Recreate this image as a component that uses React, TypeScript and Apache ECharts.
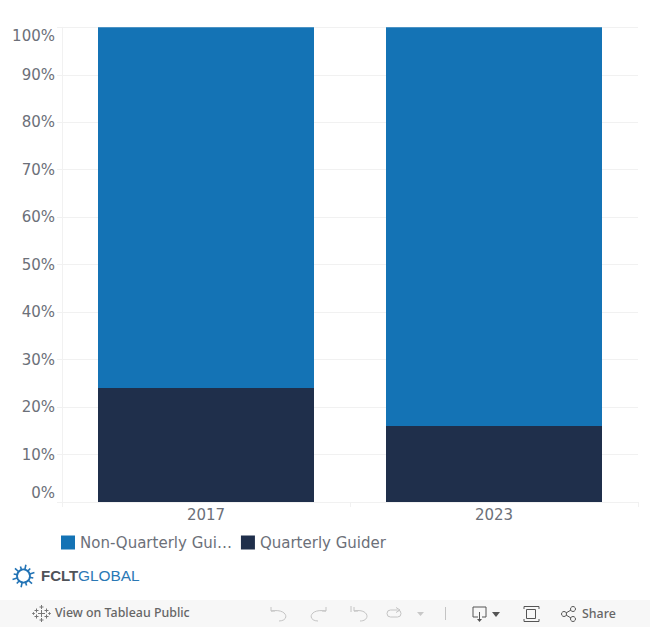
import React, { useEffect, useRef } from "react";
import * as echarts from "echarts";

const categories = ["2017", "2023"];
const quarterlyGuider = [24, 16];
const nonQuarterlyGuider = [76, 84];
const yTicks = { min: 0, max: 100, interval: 10 };
const nonQuarterlyName = "Non-Quarterly Guider";
const quarterlyName = "Quarterly Guider";

const FONT = "DejaVu Sans";
const TEXT = "#6c7079";
const GRID = "#f1f1f1";
const ICON = { stroke: "#c4c4c4", fill: "none", lineWidth: 1 };
const ICON_DARK = { stroke: "#555", fill: "none", lineWidth: 1 };

const burstAngles = [0, 30, 60, 90, 120, 150, 180, 210, 240, 270, 300, 330];

function logo() {
  const cx = 23.5, cy = 576;
  const rays = burstAngles.flatMap((a, i) => {
    const t = ((a + 12) * Math.PI) / 180;
    const r2 = i % 2 ? 11.5 : 10;
    return [{
      type: "line",
      shape: { x1: cx + 6 * Math.cos(t), y1: cy + 6 * Math.sin(t), x2: cx + r2 * Math.cos(t), y2: cy + r2 * Math.sin(t) },
      style: { stroke: "#2273b5", lineWidth: 1.6 },
    }];
  });
  return [
    { type: "circle", shape: { cx, cy, r: 6.5 }, style: { stroke: "#2273b5", fill: "none", lineWidth: 1.8 } },
    ...rays,
    { type: "text", x: 41, y: 568, style: { text: "FCLT", font: "bold 15px 'Liberation Sans', sans-serif", fill: "#4f5358" } },
    { type: "text", x: 78, y: 568, style: { text: "GLOBAL", font: "15.4px 'Liberation Sans', sans-serif", fill: "#2a78b5" } },
  ];
}

function tableauMark() {
  const cx = 41.5, cy = 613.5;
  const crosses: [number, number, number][] = [
    [0, 0, 3.5], [-5, -3, 2], [5, -3, 2], [-5, 3, 2], [5, 3, 2], [0, -6.5, 2], [0, 6.5, 2], [-8, 0, 1.3], [8, 0, 1.3],
  ];
  return crosses.flatMap(([dx, dy, r]) => [
    { type: "line", shape: { x1: cx + dx - r, y1: cy + dy, x2: cx + dx + r, y2: cy + dy }, style: { ...ICON_DARK, stroke: "#777" } },
    { type: "line", shape: { x1: cx + dx, y1: cy + dy - r, x2: cx + dx, y2: cy + dy + r }, style: { ...ICON_DARK, stroke: "#777" } },
  ]);
}

function toolbar() {
  return [
    { type: "polyline", shape: { points: [[271, 607], [271, 611], [275, 611]] }, style: ICON, },
    { type: "bezierCurve", shape: { x1: 271, y1: 611, x2: 279, y2: 621, cpx1: 288, cpy1: 608, cpx2: 290, cpy2: 621 }, style: ICON },
    { type: "polyline", shape: { points: [[326, 607], [326, 611], [322, 611]] }, style: ICON },
    { type: "bezierCurve", shape: { x1: 326, y1: 611, x2: 318, y2: 621, cpx1: 309, cpy1: 608, cpx2: 307, cpy2: 621 }, style: ICON },
    { type: "line", shape: { x1: 351, y1: 606, x2: 351, y2: 612 }, style: ICON },
    { type: "polyline", shape: { points: [[354, 607], [354, 611], [358, 611]] }, style: ICON },
    { type: "bezierCurve", shape: { x1: 354, y1: 611, x2: 360, y2: 621, cpx1: 369, cpy1: 608, cpx2: 371, cpy2: 621 }, style: ICON },
    { type: "rect", shape: { x: 387, y: 610, width: 14, height: 7, r: 3.5 }, style: ICON },
    { type: "polyline", shape: { points: [[396, 607.5], [400, 610], [396, 612.5]] }, style: ICON },
    { type: "polygon", shape: { points: [[417, 612], [424, 612], [420.5, 616]] }, style: { fill: "#c8c8c8" } },
    { type: "line", shape: { x1: 445.5, y1: 607, x2: 445.5, y2: 620 }, style: ICON },
    { type: "polyline", shape: { points: [[478, 617], [473, 617], [473, 607], [486, 607], [486, 617], [482, 617]] }, style: ICON_DARK },
    { type: "line", shape: { x1: 479.5, y1: 612, x2: 479.5, y2: 621 }, style: ICON_DARK },
    { type: "polygon", shape: { points: [[477, 619], [482, 619], [479.5, 622]] }, style: { fill: "#555" } },
    { type: "polygon", shape: { points: [[492, 612], [500, 612], [496, 617]] }, style: { fill: "#555" } },
    { type: "rect", shape: { x: 526.5, y: 609.5, width: 9, height: 9 }, style: ICON_DARK },
    { type: "polyline", shape: { points: [[524, 609], [524, 606.5], [539, 606.5], [539, 609]] }, style: ICON_DARK },
    { type: "polyline", shape: { points: [[524, 619], [524, 621.5], [539, 621.5], [539, 619]] }, style: ICON_DARK },
    { type: "circle", shape: { cx: 564, cy: 614, r: 2.5 }, style: ICON_DARK },
    { type: "circle", shape: { cx: 573, cy: 609, r: 2.5 }, style: ICON_DARK },
    { type: "circle", shape: { cx: 573, cy: 619, r: 2.5 }, style: ICON_DARK },
    { type: "line", shape: { x1: 566, y1: 613, x2: 571, y2: 610 }, style: ICON_DARK },
    { type: "line", shape: { x1: 566, y1: 615, x2: 571, y2: 618 }, style: ICON_DARK },
    { type: "text", x: 582, y: 607, style: { text: "Share", font: "500 12.4px 'Noto Sans', sans-serif", fill: "#666" } },
  ];
}

export default function App() {
  const ref = useRef<HTMLDivElement>(null);
  useEffect(() => {
    document.body.style.margin = "0";
    const chart = echarts.init(ref.current!, null, { renderer: "svg" });
    chart.setOption({
      animation: false,
      backgroundColor: "#fff",
      textStyle: { fontFamily: FONT },
      grid: { left: 62, right: 12, top: 27.3, height: 474.7, containLabel: false },
      legend: {
        left: 61,
        top: 535,
        padding: 0,
        itemWidth: 14,
        itemHeight: 14,
        itemGap: 9,
        icon: "rect",
        data: [nonQuarterlyName, quarterlyName],
        formatter: (n: string) => (n === nonQuarterlyName ? "Non-Quarterly Gui…" : n),
        textStyle: { fontFamily: FONT, fontSize: 15, color: TEXT, padding: [0, 0, 2, 0] },
      },
      xAxis: {
        type: "category",
        data: categories,
        axisLine: { show: true, lineStyle: { color: GRID } },
        axisTick: { show: true, length: 5, lineStyle: { color: GRID } },
        axisLabel: { fontFamily: FONT, fontSize: 15, color: TEXT, margin: 5 },
      },
      yAxis: {
        type: "value",
        min: yTicks.min,
        max: yTicks.max,
        interval: yTicks.interval,
        axisLine: { show: true, lineStyle: { color: GRID } },
        axisTick: { show: true, length: 5, lineStyle: { color: GRID } },
        splitLine: { show: true, lineStyle: { color: GRID } },
        axisLabel: {
          fontFamily: FONT,
          fontSize: 15,
          color: TEXT,
          margin: 7,
          formatter: (v: number) =>
            v === yTicks.min ? `{zero|${v}%}` : v === yTicks.max ? `{top|${v}%}` : `${v}%`,
          rich: {
            zero: { fontFamily: FONT, fontSize: 15, color: TEXT, padding: [0, 0, 2, 0] },
            top: { fontFamily: FONT, fontSize: 15, color: TEXT, padding: [1, 0, 0, 0] },
          },
          verticalAlignMinLabel: "bottom",
          verticalAlignMaxLabel: "top",
        },
      },
      series: [
        { name: quarterlyName, type: "bar", stack: "t", data: quarterlyGuider, barWidth: "75%", itemStyle: { color: "#1f2f4b" } },
        { name: nonQuarterlyName, type: "bar", stack: "t", data: nonQuarterlyGuider, barWidth: "75%", itemStyle: { color: "#1473b5" } },
      ],
      graphic: [
        { type: "rect", shape: { x: 0, y: 600, width: 650, height: 27 }, style: { fill: "#f7f7f7" }, silent: true },
        ...logo(),
        ...tableauMark(),
        { type: "text", x: 55, y: 606, style: { text: "View on Tableau Public", font: "500 12.4px 'Noto Sans', sans-serif", fill: "#666" } },
        ...toolbar(),
      ],
    });
    return () => chart.dispose();
  }, []);
  return <div ref={ref} style={{ width: 650, height: 627 }} />;
}
